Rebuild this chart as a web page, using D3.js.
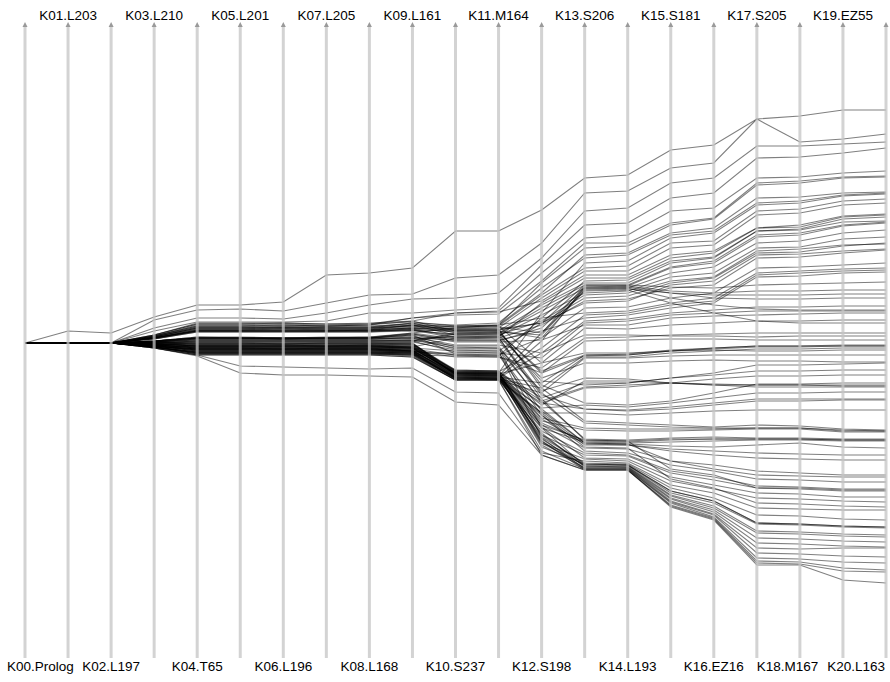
<!DOCTYPE html>
<html><head><meta charset="utf-8">
<script src="https://cdn.jsdelivr.net/npm/d3@7"></script>
<style>html,body{margin:0;padding:0;background:#fff;}svg{display:block;}</style>
</head><body>
<svg id="chart" width="890" height="682"></svg>
<script>
const axesNames = ["K00.Prolog","K01.L203","K02.L197","K03.L210","K04.T65","K05.L201","K06.L196","K07.L205","K08.L168","K09.L161","K10.S237","K11.M164","K12.S198","K13.S206","K14.L193","K15.S181","K16.EZ16","K17.S205","K18.M167","K19.EZ55","K20.L163"];

// each series: value on every axis (offset from start, positive = lower)
const series = [
[0,-12,-10,-26,-38,-38,-41,-68,-70,-75,-112,-112,-133,-165,-168,-193,-198,-224,-227,-233,-233],
[0,0,0,-23,-33,-34,-32,-40,-48,-49,-65,-68,-100,-150,-152,-175,-180,-224,-201,-204,-209],
[0,0,0,-15,-25,-25,-24,-30,-38,-44,-45,-50,-85,-132,-135,-160,-165,-197,-197,-199,-201],
[0,0,0,-12,-21,-21,-21,-22,-30,-30,-33,-35,-78,-118,-120,-145,-150,-185,-186,-190,-195],
[0,0,0,-8,-19,-19,-20,-19,-19,-25,-30,-32,-70,-105,-108,-132,-135,-165,-166,-170,-172],
[0,0,0,-7,-17,-17,-18,-17,-18,-25,-28,-29,-62,-100,-100,-120,-125,-160,-162,-166,-167],
[0,0,0,-1,-5,-5,-4,-5,-5,-10,-15,-18,-60,-95,-97,-118,-124,-158,-160,-165,-166],
[0,0,0,-6,-15,-15,-16,-15,-15,-20,-18,-20,-55,-85,-88,-108,-112,-140,-142,-148,-150],
[0,0,0,2,5,5,6,5,5,8,30,30,-30,-80,-82,-105,-110,-138,-140,-147,-149],
[0,0,0,-5,-13,-13,-14,-13,-13,-18,-16,-17,-48,-75,-77,-100,-102,-132,-134,-142,-144],
[0,0,0,-5,-12,-12,-12,-12,-13,-15,-14,-15,-45,-72,-72,-95,-98,-128,-130,-138,-140],
[0,0,0,-8,-20,-20,-20,-19,-20,-22,-30,-31,-42,-68,-68,-88,-92,-115,-118,-127,-129],
[0,0,0,1,2,2,2,3,2,4,-5,-6,-40,-65,-65,-85,-90,-115,-116,-126,-128],
[0,0,0,-7,-18,-18,-18,-17,-18,-22,-12,-12,-38,-60,-60,-80,-85,-112,-114,-124,-126],
[0,0,0,-6,-16,-16,-16,-16,-16,-20,-10,-10,-35,-58,-58,-76,-82,-108,-110,-118,-121],
[0,0,0,0,0,0,1,0,0,0,32,33,-10,-57,-57,-75,-80,-106,-108,-117,-120],
[0,0,0,-5,-14,-14,-15,-14,-14,-18,-8,-9,-32,-55,-55,-70,-76,-100,-102,-110,-113],
[0,0,0,-4,-12,-12,-12,-12,-12,-14,-6,-7,-28,-50,-52,-66,-70,-95,-96,-104,-106],
[0,0,0,1,3,3,3,3,3,5,8,8,-20,-45,-47,-60,-65,-90,-91,-97,-100],
[0,0,0,-2,-6,-6,-5,-6,-6,-10,-4,-5,-18,-42,-44,-55,-58,-85,-86,-90,-93],
[0,0,0,3,6,6,6,6,6,8,12,12,-5,-35,-36,-45,-50,-75,-76,-78,-80],
[0,0,0,-8,-19,-19,-19,-18,-19,-21,-17,-18,-25,-30,-32,-40,-45,-70,-72,-74,-75],
[0,0,0,0,1,1,1,1,1,2,28,29,5,-28,-30,-38,-42,-68,-70,-72,-73],
[0,0,0,-1,-4,-4,-4,-4,-4,-5,-3,-3,-12,-25,-28,-35,-40,-66,-67,-70,-71],
[0,0,0,-5,-13,-13,-13,-13,-13,-15,-13,-13,-20,-58,-58,-56,-55,-58,-59,-60,-61],
[0,0,0,3,7,7,7,7,7,9,35,35,-2,-56,-57,-52,-50,-52,-52,-53,-53],
[0,0,0,-2,-6,-5,-5,-5,-6,-9,-2,-2,-15,-55,-56,-50,-45,-44,-44,-45,-45],
[0,0,0,-5,-12,-12,-12,-12,-12,-14,-11,-11,-8,-54,-55,-45,-38,-34,-33,-33,-33],
[0,0,0,4,9,9,9,9,9,10,10,10,15,-20,-22,-28,-30,-32,-32,-32,-32],
[0,0,0,-2,-5,-5,-4,-5,-5,-8,-1,-1,-3,-18,-18,-25,-27,-28,-29,-30,-30],
[0,0,0,2,4,4,4,4,4,5,30,31,20,-15,-14,-18,-20,-22,-22,-23,-23],
[0,0,0,-6,-14,-14,-14,-14,-14,-16,-15,-16,-10,-52,-53,-40,-30,-22,-20,-20,-20],
[0,0,0,4,11,11,11,11,11,12,13,14,25,-5,-6,-8,-9,-10,-10,-10,-10],
[0,0,0,-1,-4,-4,-4,-4,-4,-6,2,2,10,-8,-8,-7,-7,-6,-7,-7,-7],
[0,0,0,3,8,8,8,8,8,9,33,34,40,12,12,8,5,3,3,2,2],
[0,0,0,0,-2,-2,-2,-2,-2,-2,-10,-11,30,13,12,8,6,4,4,3,3],
[0,0,0,4,10,10,10,10,10,11,36,36,45,14,14,10,8,6,6,5,5],
[0,0,0,-7,-17,-17,-17,-17,-17,-19,-16,-17,20,10,10,8,7,8,8,7,7],
[0,0,0,5,12,12,12,12,12,14,37,37,50,15,15,13,12,12,12,12,12],
[0,0,0,-1,-3,-3,-3,-3,-3,-3,-7,-7,35,20,20,18,17,18,18,19,19],
[0,0,0,2,5,5,5,5,5,6,29,29,55,40,40,35,30,22,22,21,20],
[0,0,0,0,-1,-1,-1,-1,-1,-1,-9,-9,38,42,40,35,32,28,28,27,27],
[0,0,0,3,6,6,6,6,6,8,31,32,60,45,44,40,36,33,33,32,32],
[0,0,0,-4,-11,-11,-11,-11,-11,-13,-12,-13,42,60,62,58,50,41,41,40,40],
[0,0,0,1,3,3,3,3,3,4,27,28,62,38,38,40,42,42,42,42,42],
[0,0,0,-2,-5,-5,-5,-5,-5,-7,4,5,48,35,36,40,42,44,44,44,44],
[0,0,0,4,9,9,9,9,9,10,34,35,65,62,64,60,55,50,50,49,49],
[0,0,0,-2,-5,-5,-5,-5,-5,-9,-3,-3,52,66,68,66,62,58,58,57,57],
[0,0,0,5,12,12,12,12,12,14,37,37,70,70,72,70,68,67,67,67,67],
[0,0,0,-6,-15,-15,-15,-15,-15,-17,-14,-14,45,78,80,82,84,82,83,86,87],
[0,0,0,1,2,2,2,2,2,3,28,28,75,85,86,86,86,85,85,88,88],
[0,0,0,3,7,7,7,7,7,8,32,33,78,87,88,88,87,86,86,89,89],
[0,0,0,-1,-4,-4,-4,-4,-4,-5,6,6,58,96,97,95,94,95,95,96,96],
[0,0,0,2,4,4,4,4,4,5,30,30,80,98,99,97,96,96,96,97,97],
[0,0,0,4,10,10,10,10,10,12,35,36,85,99,100,99,98,97,97,98,98],
[0,0,0,0,-2,-2,-2,-2,-2,-2,9,10,68,100,101,103,104,102,100,104,105],
[0,0,0,3,8,8,8,8,8,9,34,35,70,102,102,106,108,110,111,112,112],
[0,0,0,0,0,0,0,0,0,0,29,30,76,101,102,108,112,115,116,117,117],
[0,0,0,2,5,5,5,5,5,6,31,31,82,105,106,118,122,128,130,132,132],
[0,0,0,-2,-5,-5,-5,-5,-5,-8,11,12,72,108,110,122,128,136,137,139,139],
[0,0,0,4,11,11,11,11,11,13,37,37,88,110,112,128,134,143,144,146,146],
[0,0,0,1,3,3,3,3,3,3,30,31,92,112,113,130,137,145,145,147,147],
[0,0,0,-2,-5,-5,-5,-5,-5,-5,-6,-6,56,97,98,126,132,145,146,148,148],
[0,0,0,3,6,6,6,6,6,7,33,34,84,115,116,134,142,150,151,154,154],
[0,0,0,0,1,1,1,1,1,1,27,28,100,116,118,138,146,155,156,158,159],
[0,0,0,5,12,23,24,25,26,25,49,50,110,118,120,142,150,165,166,167,167],
[0,0,0,4,9,9,9,9,9,10,36,36,94,120,121,145,155,172,173,176,177],
[0,0,0,1,2,2,2,2,2,2,32,32,104,121,122,148,158,180,181,183,184],
[0,0,0,3,7,7,7,7,7,8,34,34,100,122,122,150,160,181,182,184,185],
[0,0,0,-1,-3,-3,-3,-3,-3,-3,5,5,85,123,123,152,163,188,189,191,192],
[0,0,0,2,4,4,4,4,4,5,30,31,96,123,124,153,165,190,191,193,194],
[0,0,0,4,10,10,10,10,10,11,35,36,90,124,124,155,167,195,196,198,199],
[0,0,0,0,0,0,0,0,0,1,28,29,98,125,125,156,169,200,201,203,204],
[0,0,0,3,6,6,6,6,6,7,33,33,102,125,125,158,171,205,206,205,205],
[0,0,0,0,-1,-1,-1,-1,-1,-1,7,8,95,126,126,159,172,210,211,213,214],
[0,0,0,3,8,8,8,8,8,9,36,37,108,126,126,160,174,215,216,219,220],
[0,0,0,1,3,3,3,3,3,4,31,32,98,127,127,162,175,218,219,225,227],
[0,0,0,4,11,11,11,11,11,12,37,37,112,127,127,163,176,220,221,228,229],
[0,0,0,5,13,30,32,32,33,34,59,62,112,127,127,164,177,222,222,237,240],
[0,0,0,-6,-15,-15,-15,-15,-15,-17,-17,-18,-50,-88,-90,-110,-115,-145,-146,-150,-151],
[0,0,0,2,5,5,5,5,5,6,12,13,-25,-62,-63,-82,-86,-112,-113,-121,-122],
[0,0,0,-5,-12,-12,-12,-12,-12,-13,-8,-8,-22,-48,-50,-62,-66,-92,-94,-98,-99],
[0,0,0,4,10,10,10,10,10,11,34,35,10,-22,-24,-30,-33,-36,-36,-37,-37],
[0,0,0,-4,-11,-11,-11,-11,-11,-12,-9,-10,28,12,11,7,5,3,3,3,3],
[0,0,0,1,3,3,3,3,3,4,29,30,58,44,42,40,41,42,42,43,43],
[0,0,0,-5,-12,-12,-12,-12,-12,-13,-5,-5,50,80,82,84,85,85,85,87,88],
[0,0,0,2,6,6,6,6,6,7,32,33,82,97,98,96,96,96,96,97,97],
[0,0,0,0,1,1,1,1,1,1,30,30,92,121,122,148,158,180,181,183,184],
[0,0,0,-5,-13,-13,-13,-13,-13,-15,-12,-12,-5,-53,-54,-50,-48,-48,-48,-49,-49],
[0,0,0,3,7,7,7,7,7,8,14,14,30,-2,-3,-4,-4,-3,-3,-3,-3],
[0,0,0,-1,-2,-2,-2,-2,-2,-3,3,3,60,66,67,64,60,56,56,56,56],
[0,0,0,2,4,4,4,4,4,5,31,32,66,100,101,118,126,132,133,134,134],
[0,0,0,-7,-16,-16,-16,-16,-16,-18,-13,-14,-20,-40,-42,-58,-62,-88,-89,-92,-94],
[0,0,0,4,9,9,9,9,9,10,35,36,72,104,105,136,145,160,161,163,164]
];
const valueDomain = [-315, 312];

const svg = d3.select("#chart");
const x = d3.scalePoint().domain(axesNames).range([25, 886]);
const y = d3.scaleLinear().domain(valueDomain).range([28, 655]);

const line = d3.line().x((d,i)=>x(axesNames[i])).y(d=>y(d));

svg.append("g").attr("fill","none").attr("stroke","#000").attr("stroke-opacity",0.5).attr("stroke-width",1.1)
  .selectAll("path").data(series).join("path").attr("d", line);

const ax = svg.append("g").selectAll("g").data(axesNames).join("g")
  .attr("transform", d=>`translate(${x(d)},0)`);
ax.append("line").attr("y1",27).attr("y2",658).attr("stroke","#c4c4c4").attr("stroke-opacity",0.75).attr("stroke-width",3);
ax.append("path").attr("d","M-2.5,27L2.5,27L0,22Z").attr("fill","#9a9a9a");

// axis labels: odd on top, even at bottom, kept inside the frame without overlaps
const labels = svg.append("g").selectAll("text").data(axesNames).join("text")
  .attr("x", d=>x(d))
  .attr("y",(d,i)=> i%2 ? 20 : 671)
  .attr("text-anchor","middle")
  .attr("font-family","Liberation Sans, Arial, sans-serif").attr("font-size",13.5).attr("fill","#000")
  .text(d=>d);
[0,1].forEach(row=>{
  const nodes = labels.filter((d,i)=>i%2===row).nodes();
  const box = nodes.map(n=>{const w=n.getComputedTextLength();const cx=+n.getAttribute("x");return {n,w,start:cx-w/2};});
  let limit = 885;
  for (let k=box.length-1;k>=0;k--){
    const b=box[k];
    if (b.start+b.w>limit) b.start=limit-b.w;
    limit=b.start-9;
  }
  box.forEach(b=>{ if(b.start<7) b.start=7; b.n.setAttribute("x", b.start+b.w/2); });
});
</script>
</body></html>
